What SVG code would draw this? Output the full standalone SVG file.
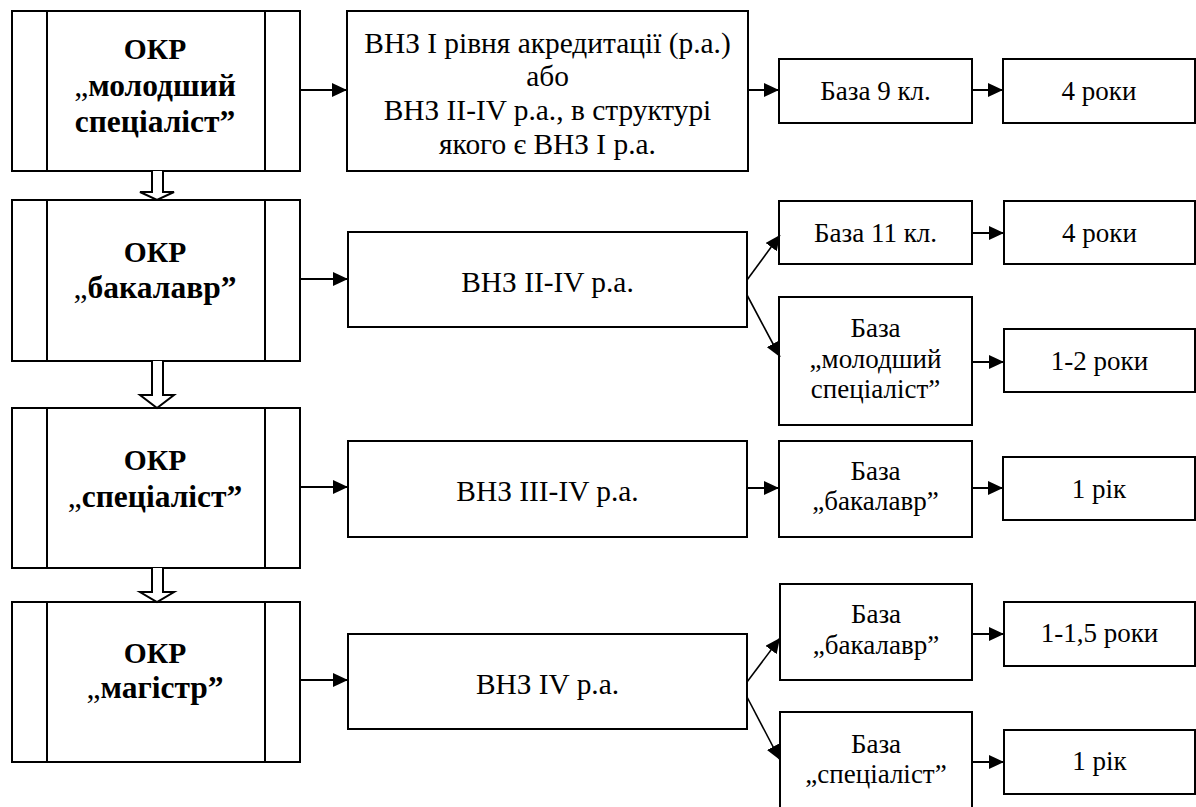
<svg xmlns="http://www.w3.org/2000/svg" width="1196" height="807" viewBox="0 0 1196 807">
<style>
  .box{fill:#fff;stroke:#000;stroke-width:2}
  .sep{stroke:#000;stroke-width:2}
  .t{font-family:"Liberation Serif","Times New Roman",serif;font-size:27px;text-anchor:middle;fill:#000}
  .v{font-family:"Liberation Serif","Times New Roman",serif;font-size:29.4px;text-anchor:middle;fill:#000}
  .b{font-family:"Liberation Serif","Times New Roman",serif;font-size:31.5px;font-weight:bold;text-anchor:middle;fill:#000}
  .k{font-size:29.5px}
  .q{font-weight:normal}
  .c{stroke:#000;stroke-width:2;fill:none}
  .d{stroke:#000;stroke-width:1.6;fill:none}
  .h{fill:#fff;stroke:#000;stroke-width:2}
</style>
<defs>
  <marker id="ar" viewBox="0 0 15 14" refX="15" refY="7" markerWidth="15" markerHeight="14" markerUnits="userSpaceOnUse" orient="auto">
    <path d="M0,0 L15,7 L0,14 Z" fill="#000"/>
  </marker>
</defs>
<g id="okr1">
  <rect class="box" x="12" y="11" width="288" height="160"/>
  <line class="sep" x1="47" y1="11" x2="47" y2="171"/>
  <line class="sep" x1="265" y1="11" x2="265" y2="171"/>
  <text class="b k" x="155" y="59">ОКР</text>
  <text class="b" x="155" y="96"><tspan class="q">„</tspan>молодший</text>
  <text class="b" x="155" y="132">спеціаліст”</text>
</g>
<g id="okr2">
  <rect class="box" x="12" y="200" width="288" height="161"/>
  <line class="sep" x1="47" y1="200" x2="47" y2="361"/>
  <line class="sep" x1="265" y1="200" x2="265" y2="361"/>
  <text class="b k" x="155" y="262">ОКР</text>
  <text class="b" x="155" y="298"><tspan class="q">„</tspan>бакалавр”</text>
</g>
<g id="okr3">
  <rect class="box" x="12" y="408" width="288" height="160"/>
  <line class="sep" x1="47" y1="408" x2="47" y2="568"/>
  <line class="sep" x1="265" y1="408" x2="265" y2="568"/>
  <text class="b k" x="155" y="470">ОКР</text>
  <text class="b" x="155" y="507"><tspan class="q">„</tspan>спеціаліст”</text>
</g>
<g id="okr4">
  <rect class="box" x="12" y="602" width="288" height="160"/>
  <line class="sep" x1="47" y1="602" x2="47" y2="762"/>
  <line class="sep" x1="265" y1="602" x2="265" y2="762"/>
  <text class="b k" x="155" y="663">ОКР</text>
  <text class="b" x="155" y="698"><tspan class="q">„</tspan>магістр”</text>
</g>

<g id="vnz1">
  <rect class="box" x="347" y="11" width="401" height="160"/>
  <text class="v" x="547.5" y="53">ВНЗ І рівня акредитації (р.а.)</text>
  <text class="v" x="547.5" y="86">або</text>
  <text class="v" x="547.5" y="120">ВНЗ ІІ-IV р.а., в структурі</text>
  <text class="v" x="547.5" y="154">якого є ВНЗ І р.а.</text>
</g>
<g id="vnz2">
  <rect class="box" x="348" y="232" width="399" height="95"/>
  <text class="v" x="547.5" y="292">ВНЗ ІІ-IV р.а.</text>
</g>
<g id="vnz3">
  <rect class="box" x="348" y="441" width="399" height="96"/>
  <text class="v" x="547.5" y="501">ВНЗ ІІІ-IV р.а.</text>
</g>
<g id="vnz4">
  <rect class="box" x="348" y="634" width="399" height="95"/>
  <text class="v" x="547.5" y="694">ВНЗ IV р.а.</text>
</g>

<g id="baza9">
  <rect class="box" x="779" y="59" width="193" height="64"/>
  <text class="t" x="875.5" y="100">База 9 кл.</text>
</g>
<g id="r1">
  <rect class="box" x="1003" y="59" width="192" height="64"/>
  <text class="t" x="1099" y="100">4 роки</text>
</g>
<g id="baza11">
  <rect class="box" x="779" y="201" width="193" height="63"/>
  <text class="t" x="875.5" y="242">База 11 кл.</text>
</g>
<g id="r2">
  <rect class="box" x="1004" y="201" width="191" height="63"/>
  <text class="t" x="1099.5" y="242">4 роки</text>
</g>
<g id="bazaMs">
  <rect class="box" x="779" y="297" width="193" height="128"/>
  <text class="t" x="875.5" y="337">База</text>
  <text class="t" x="875.5" y="368">„молодший</text>
  <text class="t" x="875.5" y="398">спеціаліст”</text>
</g>
<g id="r3">
  <rect class="box" x="1004" y="329" width="191" height="63"/>
  <text class="t" x="1099.5" y="370">1-2 роки</text>
</g>
<g id="bazaB1">
  <rect class="box" x="779" y="441" width="193" height="96"/>
  <text class="t" x="875.5" y="480">База</text>
  <text class="t" x="875.5" y="510">„бакалавр”</text>
</g>
<g id="r4">
  <rect class="box" x="1003" y="457" width="192" height="63"/>
  <text class="t" x="1099" y="498">1 рік</text>
</g>
<g id="bazaB2">
  <rect class="box" x="780" y="584" width="192" height="96"/>
  <text class="t" x="876" y="623">База</text>
  <text class="t" x="876" y="654">„бакалавр”</text>
</g>
<g id="r5">
  <rect class="box" x="1004" y="602" width="191" height="64"/>
  <text class="t" x="1099.5" y="642">1-1,5 роки</text>
</g>
<g id="bazaS">
  <rect class="box" x="780" y="712" width="192" height="97"/>
  <text class="t" x="876" y="753">База</text>
  <text class="t" x="876" y="783">„спеціаліст”</text>
</g>
<g id="r6">
  <rect class="box" x="1004" y="730" width="191" height="64"/>
  <text class="t" x="1099.5" y="770">1 рік</text>
</g>
<g id="connectors">
  <line class="c" x1="300" y1="90" x2="347" y2="90" marker-end="url(#ar)"/>
  <line class="c" x1="748" y1="90" x2="779" y2="90" marker-end="url(#ar)"/>
  <line class="c" x1="972" y1="90" x2="1003" y2="90" marker-end="url(#ar)"/>

  <line class="c" x1="300" y1="279" x2="348" y2="279" marker-end="url(#ar)"/>
  <line class="d" x1="747" y1="280" x2="780" y2="235" marker-end="url(#ar)"/>
  <line class="d" x1="747" y1="295" x2="780" y2="357" marker-end="url(#ar)"/>
  <line class="c" x1="972" y1="233" x2="1004" y2="233" marker-end="url(#ar)"/>
  <line class="c" x1="972" y1="362" x2="1004" y2="362" marker-end="url(#ar)"/>

  <line class="c" x1="300" y1="487" x2="348" y2="487" marker-end="url(#ar)"/>
  <line class="c" x1="747" y1="488" x2="779" y2="488" marker-end="url(#ar)"/>
  <line class="c" x1="972" y1="488" x2="1003" y2="488" marker-end="url(#ar)"/>

  <line class="c" x1="300" y1="680" x2="348" y2="680" marker-end="url(#ar)"/>
  <line class="d" x1="747" y1="682" x2="780" y2="638" marker-end="url(#ar)"/>
  <line class="d" x1="747" y1="697" x2="780" y2="760" marker-end="url(#ar)"/>
  <line class="c" x1="972" y1="634" x2="1004" y2="634" marker-end="url(#ar)"/>
  <line class="c" x1="972" y1="762" x2="1004" y2="762" marker-end="url(#ar)"/>

  <path class="h" d="M152,171 V192 H140 L157,200 L174,192 H163 V171"/>
  <path class="h" d="M152,361 V395 H140 L157,408 L174,395 H163 V361"/>
  <path class="h" d="M152,568 V592 H140 L157,602 L174,592 H163 V568"/>
</g>
</svg>
